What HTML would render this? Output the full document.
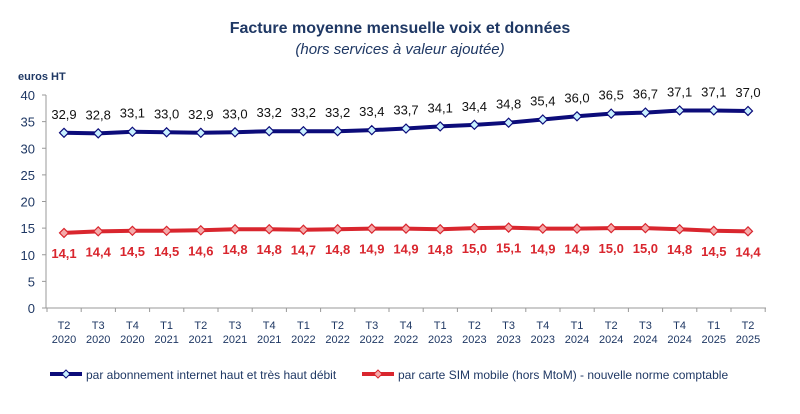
<!DOCTYPE html>
<html><head><meta charset="utf-8"><style>
body{margin:0;background:#fff;width:800px;height:409px;overflow:hidden}
text{font-family:"Liberation Sans",sans-serif}
</style></head><body>
<svg id="s" width="800" height="409" xmlns="http://www.w3.org/2000/svg">
<text x="400" y="33" text-anchor="middle" font-size="16" font-weight="bold" fill="#1f3864">Facture moyenne mensuelle voix et données</text>
<text x="400" y="54" text-anchor="middle" font-size="15" font-style="italic" fill="#1f3864">(hors services à valeur ajoutée)</text>
<text x="18" y="80" font-size="11" font-weight="bold" fill="#1f3864">euros HT</text>
<g id="g"></g>
</svg>
<script>
var b=[32.9,32.8,33.1,33.0,32.9,33.0,33.2,33.2,33.2,33.4,33.7,34.1,34.4,34.8,35.4,36.0,36.5,36.7,37.1,37.1,37.0];
var r=[14.1,14.4,14.5,14.5,14.6,14.8,14.8,14.7,14.8,14.9,14.9,14.8,15.0,15.1,14.9,14.9,15.0,15.0,14.8,14.5,14.4];
var q=["T2","T3","T4","T1","T2","T3","T4","T1","T2","T3","T4","T1","T2","T3","T4","T1","T2","T3","T4","T1","T2"];
var yr=[2020,2020,2020,2021,2021,2021,2021,2022,2022,2022,2022,2023,2023,2023,2023,2024,2024,2024,2024,2025,2025];
function X(i){return 64+i*34.2}function Y(v){return 308-v*5.325}
var h='';
h+='<line x1="46" y1="95" x2="46" y2="308" stroke="#999"/><line x1="46" y1="308" x2="766" y2="308" stroke="#999"/>';
for(var v=0;v<=40;v+=5){var y=Y(v);h+='<line x1="42" y1="'+y+'" x2="46" y2="'+y+'" stroke="#999"/><text x="35" y="'+(y+5)+'" text-anchor="end" font-size="13" fill="#1f3864">'+v+'</text>';}
for(var i=0;i<=21;i++){var x=47+i*34.2;h+='<line x1="'+x+'" y1="308" x2="'+x+'" y2="312" stroke="#999"/>';}
for(var i=0;i<21;i++){h+='<text x="'+X(i)+'" y="329" text-anchor="middle" font-size="11" fill="#1f3864">'+q[i]+'</text><text x="'+X(i)+'" y="343" text-anchor="middle" font-size="11" fill="#1f3864">'+yr[i]+'</text>';}
function ser(d,c,fc,ly){var p=d.map(function(v,i){return X(i)+','+Y(v)}).join(' ');
h+='<polyline points="'+p+'" fill="none" stroke="'+c+'" stroke-width="4"/>';
d.forEach(function(v,i){var x=X(i),y=Y(v);h+='<polygon points="'+x+','+(y-4.5)+' '+(x+4.5)+','+y+' '+x+','+(y+4.5)+' '+(x-4.5)+','+y+'" fill="'+fc+'" stroke="'+c+'" stroke-width="1.2"/>';
h+='<text x="'+x+'" y="'+(ly=='a'?y-14:y+25)+'" text-anchor="middle" font-size="13" '+(ly=='a'?'fill="#111"':'fill="#d9262e" font-weight="bold"')+'>'+v.toFixed(1).replace('.',',')+'</text>';});}
ser(b,'#0c0c7a','#c8f0ff','a');ser(r,'#d9262e','#f4aaaa','b');
h+='<line x1="50" y1="374" x2="82" y2="374" stroke="#0c0c7a" stroke-width="4"/><polygon points="66,370 70,374 66,378 62,374" fill="#c8f0ff" stroke="#0c0c7a"/><text x="86" y="379" font-size="12" fill="#1f3864">par abonnement internet haut et très haut débit</text>';
h+='<line x1="362" y1="374" x2="394" y2="374" stroke="#d9262e" stroke-width="4"/><polygon points="378,370 382,374 378,378 374,374" fill="#f4aaaa" stroke="#d9262e"/><text x="398" y="379" font-size="12" fill="#1f3864">par carte SIM mobile (hors MtoM)  - nouvelle norme comptable</text>';
document.getElementById('g').innerHTML=h;
</script>
</body></html>
